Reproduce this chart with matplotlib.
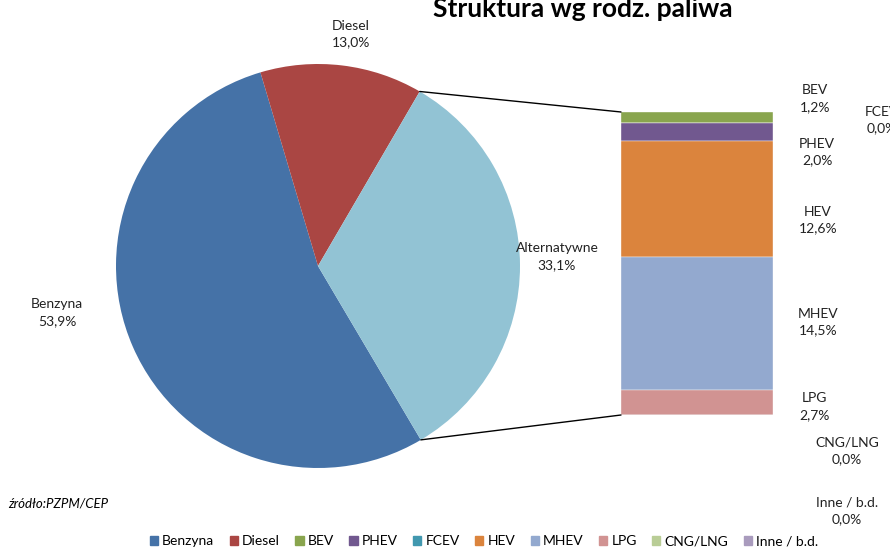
import matplotlib
matplotlib.use('Agg')
import numpy as np
import matplotlib.pyplot as plt
from matplotlib.patches import ConnectionPatch, Patch

plt.rcParams['font.family'] = ['Lato', 'DejaVu Sans']

# pie data
pie_labels = ['Benzyna', 'Diesel', 'Alternatywne']
pie_values = [53.9, 13.0, 33.1]
pie_colors = ['#4572A7', '#AA4643', '#92C3D4']

# bar data (top to bottom)
bar_labels = ['BEV', 'FCEV', 'PHEV', 'HEV', 'MHEV', 'LPG', 'CNG/LNG', 'Inne / b.d.']
bar_values = [1.2, 0.0, 2.0, 12.6, 14.5, 2.7, 0.0, 0.0]
bar_colors = ['#89A54E', '#4198AF', '#71588F', '#DB843D', '#93A9CF', '#D19392', '#B9CD96', '#A99BBD']

legend_order = ['Benzyna', 'Diesel', 'BEV', 'PHEV', 'FCEV', 'HEV', 'MHEV', 'LPG', 'CNG/LNG', 'Inne / b.d.']

def fmt(v):
    return ('%.1f%%' % v).replace('.', ',')

W, H = 890, 547
fig = plt.figure(figsize=(W / 100, H / 100), dpi=100)
ax = fig.add_axes([0, 0, 1, 1])

start = -59.4
wedges, _ = ax.pie(pie_values, colors=pie_colors, startangle=start, counterclock=False,
                   center=(318, H - 266), radius=202)
ax.set_xlim(0, W)
ax.set_ylim(0, H)
ax.set_aspect('equal')
ax.axis('off')

pie_lab_pos = [(57, 313), (351, 34), (557, 257)]
for name, v, (x, y) in zip(pie_labels, pie_values, pie_lab_pos):
    ax.text(x, H - y, name + '\n' + fmt(v), ha='center', va='center', fontsize=10,
            linespacing=1.5, color='#222222')

# bar of the "Alternatywne" slice
bx0, bx1, by0, by1 = 621, 773, 415, 112
bax = fig.add_axes([bx0 / W, (H - by0) / H, (bx1 - bx0) / W, (by0 - by1) / H])
total = sum(bar_values)
bottom = total
for name, v, c in zip(bar_labels, bar_values, bar_colors):
    bottom -= v
    bax.bar(0, v, bottom=bottom, width=1, color=c, edgecolor='#f4f4f4', linewidth=0.3)
bax.set_xlim(-0.5, 0.5)
bax.set_ylim(0, total)
bax.axis('off')

bar_lab_pos = [(815, 99), (882, 120), (817, 152), (818, 220), (818, 322), (814, 407),
               (847, 451), (847, 511)]
for name, v, (x, y) in zip(bar_labels, bar_values, bar_lab_pos):
    ax.text(x, H - y, name + '\n' + fmt(v), ha='center', va='center', fontsize=10,
            linespacing=1.5, color='#222222', clip_on=False)

# connector lines from slice edge to bar
alt = wedges[2]
for ang, yb in [(alt.theta2, total), (alt.theta1, 0)]:
    px = 318 + 202 * np.cos(np.radians(ang))
    py = H - 266 + 202 * np.sin(np.radians(ang))
    con = ConnectionPatch(xyA=(px, py), coordsA=ax.transData,
                          xyB=(-0.5, yb), coordsB=bax.transData,
                          color='black', linewidth=1)
    fig.add_artist(con)

ax.text(583, H - 17, 'Struktura wg rodz. paliwa', ha='center', va='baseline',
        fontsize=19, fontweight='bold')
ax.text(8, H - 503, 'źródło:PZPM/CEP', ha='left', va='center', fontsize=9.5,
        style='italic')

colors = dict(zip(pie_labels, pie_colors))
colors.update(zip(bar_labels, bar_colors))
handles = [Patch(color=colors[n], label=n) for n in legend_order]
fig.legend(handles=handles, loc='center', bbox_to_anchor=(484 / W, 1 - 541 / H), ncol=10,
           frameon=False, fontsize=10, handlelength=0.6, handleheight=0.6,
           handletextpad=0.3, columnspacing=1.1, borderpad=0)

fig.savefig('out.png', dpi=100)
